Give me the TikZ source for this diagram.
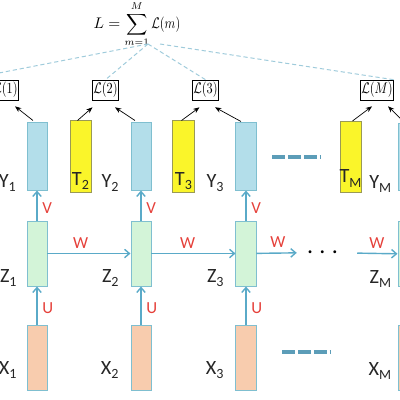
\documentclass[tikz,border=0pt]{standalone}
\usepackage{amsmath,amssymb}
\usepackage{graphicx}
\usepackage{fontspec}
\setsansfont{Carlito}
\usetikzlibrary{positioning, arrows.meta, calc}
\definecolor{yfill}{HTML}{B3DEEA}
\definecolor{tfill}{HTML}{FAF52A}
\definecolor{zfill}{HTML}{D3F4D8}
\definecolor{xfill}{HTML}{F8CCAE}
\definecolor{cellline}{HTML}{7FBFD0}
\definecolor{tline}{HTML}{9A9A55}
\definecolor{flowc}{HTML}{5AAAC8}
\definecolor{hubc}{HTML}{9FCBDB}
\definecolor{gapc}{HTML}{5C9DB8}
\definecolor{wred}{HTML}{E5403A}
\newcommand{\lterm}[1]{\scalebox{0.8}[1]{$\mathcal{L}(#1)$}}
\newcommand{\vsub}[2]{#1\raisebox{-0.45ex}{\fontsize{10}{10}\selectfont #2}}
\tikzset{
  ybox/.style={draw=cellline, fill=yfill, line width=0.7pt, minimum width=5mm, minimum height=16.75mm, inner sep=0pt},
  tbox/.style={draw=tline, fill=tfill, line width=0.7pt, minimum width=5.25mm, minimum height=17.75mm, inner sep=0pt},
  zbox/.style={draw=cellline, fill=zfill, line width=0.7pt, minimum width=5mm, minimum height=16.25mm, inner sep=0pt},
  xbox/.style={draw=cellline, fill=xfill, line width=0.7pt, minimum width=5mm, minimum height=16.25mm, inner sep=0pt},
  lbox/.style={draw, line width=0.5pt, inner xsep=0.4pt, inner ysep=1.6pt, font=\fontsize{11}{13}\selectfont},
  vlab/.style={font=\sffamily\fontsize{14.4}{16}\selectfont, text=black!85, inner sep=0pt},
  wlab/.style={font=\sffamily\fontsize{12}{14}\selectfont, text=wred},
  flow/.style={draw=flowc, line width=1pt, -{Straight Barb[length=3.5pt, width=6pt]}},
  hubline/.style={draw=hubc, line width=0.7pt, dash pattern=on 3pt off 2pt},
  toloss/.style={draw=black, line width=0.5pt, -{Stealth[length=4.5pt, width=3.5pt]}},
  gapline/.style={draw=gapc, line width=2.8pt, dash pattern=on 9.2pt off 2.1pt},
}

\begin{document}
\begin{tikzpicture}[x=0.025cm, y=-0.025cm, >=Stealth]
  \useasboundingbox (0,0) rectangle (400,400);
  \clip (0,0) rectangle (400,400);
  % output row
  \node[ybox] (Y1) at (37,156.5) {};
  \node[tbox, right=5.5mm of Y1] (T2) {};
  \node[ybox, right=9.75mm of T2] (Y2) {};
  \node[tbox, right=5.25mm of Y2] (T3) {};
  \node[ybox, right=10.25mm of T3] (Y3) {};
  \node[tbox] (TM) at (350.5,157) {};
  \node[ybox, right=9mm of TM] (YM) {};
  % hidden and input rows
  \node[zbox, below=7.5mm of Y1] (Z1) {};
  \node[zbox, below=7.5mm of Y2] (Z2) {};
  \node[zbox, below=7.5mm of Y3] (Z3) {};
  \node[zbox, below=7.5mm of YM] (ZM) {};
  \node[xbox, below=9.5mm of Z1] (X1) {};
  \node[xbox, below=9.5mm of Z2] (X2) {};
  \node[xbox, below=9.5mm of Z3] (X3) {};
  \node[xbox, below=9.5mm of ZM] (XM) {};
  % losses
  \node[lbox] (L1) at (5.5,90) {\lterm{1}};
  \node[lbox] (L2) at (105.5,90) {\lterm{2}};
  \node[lbox] (L3) at (205.5,90) {\lterm{3}};
  \node[lbox] (LM) at (377,90) {\lterm{M}};
  \node[font=\fontsize{10.5}{12}\selectfont, inner sep=1pt] (loss) at (137,24) {$L = \displaystyle\sum_{m=1}^{M} \lterm{m}$};
  \coordinate (hub) at (148,44); \coordinate (hubr) at (160,44); \coordinate (far) at (-37,80);
  \draw[hubline] (hub) -- (far); \draw[hubline] (hub) -- (L2.north);
  \draw[hubline] (hub) -- (L3.north); \draw[hubline] (hubr) -- (LM.north east);
  \draw[toloss] ($(Y1.north)+(-4,-2)$) -- ($(L1.south)+(9.5,6)$);
  \draw[toloss] ($(T2.north)+(-3,0)$) -- ($(L2.south)+(-13,7)$);
  \draw[toloss] ($(Y2.north)+(-6,-2)$) -- ($(L2.south)+(9.5,7)$);
  \draw[toloss] ($(T3.north)+(-2,0)$) -- ($(L3.south)+(-6,7)$);
  \draw[toloss] ($(Y3.north)+(-5,-1)$) -- ($(L3.south)+(9.5,7)$);
  \draw[toloss] ($(TM.north)+(2,0)$) -- ($(LM.south)+(-5,6)$);
  \draw[toloss] ($(YM.north)+(-5,-2)$) -- ($(LM.south)+(11,6)$);
  % weights
  \draw[flow] (Z1) -- (Y1) node[wlab, right, pos=0.4] (v1) {V};
  \draw[flow] (Z2) -- (Y2) node[wlab, right, pos=0.4] (v2) {V};
  \draw[flow] (Z3) -- (Y3) node[wlab, right, pos=0.4] (v3) {V};
  \draw[flow] (X1) -- (Z1) node[wlab, right, pos=0.42] (u1) {U};
  \draw[flow] (X2) -- (Z2) node[wlab, right, pos=0.42] (u2) {U};
  \draw[flow] (X3) -- (Z3) node[wlab, right, pos=0.42] (u3) {U};
  \node[font=\sffamily\fontsize{17}{17}\selectfont, inner xsep=2.5mm, inner ysep=0pt] (dots) at (322.5,252.5) {.\hspace{1.6mm}.\hspace{1.6mm}.};
  \draw[flow] (Z1) -- (Z2) node[wlab, above, pos=0.4] (w1) {W};
  \draw[flow] (Z2) -- (Z3) node[wlab, above, pos=0.43] (w2) {W};
  \draw[flow] (Z3) -- (dots) node[wlab, above, pos=0.53] (w3) {W};
  \draw[flow, shorten <=2.25mm] (dots) -- (ZM) node[wlab, above, pos=0.58] (wm) {W};
  % skipped columns
  \coordinate (ga) at (272,157); \coordinate (gb) at (320,157);
  \coordinate (gc) at (282,352); \coordinate (gd) at (330,352);
  \draw[gapline] (ga) -- (gb); \draw[gapline] (gc) -- (gd);
  % names
  \node[vlab, above left=0.75mm and 2.6mm of Y1.south west, anchor=base east] (y1lab) {\vsub{Y}{1}};
  \node[vlab, above left=0.75mm and 2.9mm of Y2.south west, anchor=base east] (y2lab) {\vsub{Y}{2}};
  \node[vlab, above left=0.75mm and 2.9mm of Y3.south west, anchor=base east] (y3lab) {\vsub{Y}{3}};
  \node[vlab, above left=0.75mm and 1.5mm of YM.south west, anchor=base east] (ymlab) {\vsub{Y}{M}};
  \node[vlab, above=1.75mm of T2.south, anchor=base] (t2lab) {\vsub{T}{2}};
  \node[vlab, above=1.75mm of T3.south, anchor=base] (t3lab) {\vsub{T}{3}};
  \node[vlab, above=2.5mm of TM.south, anchor=base] (tmlab) {\vsub{T}{M}};
  \node[vlab, above left=1mm and 2.4mm of Z1.south west, anchor=base east] (z1lab) {\vsub{Z}{1}};
  \node[vlab, above left=1mm and 2.9mm of Z2.south west, anchor=base east] (z2lab) {\vsub{Z}{2}};
  \node[vlab, above left=1mm and 2.9mm of Z3.south west, anchor=base east] (z3lab) {\vsub{Z}{3}};
  \node[vlab, above left=1mm and 1.5mm of ZM.south west, anchor=base east] (zmlab) {\vsub{Z}{M}};
  \node[vlab, above left=4mm and 2.4mm of X1.south west, anchor=base east] (x1lab) {\vsub{X}{1}};
  \node[vlab, above left=4mm and 2.9mm of X2.south west, anchor=base east] (x2lab) {\vsub{X}{2}};
  \node[vlab, above left=4mm and 2.9mm of X3.south west, anchor=base east] (x3lab) {\vsub{X}{3}};
  \node[vlab, above left=4mm and 1.5mm of XM.south west, anchor=base east] (xmlab) {\vsub{X}{M}};
\end{tikzpicture}
\end{document}
